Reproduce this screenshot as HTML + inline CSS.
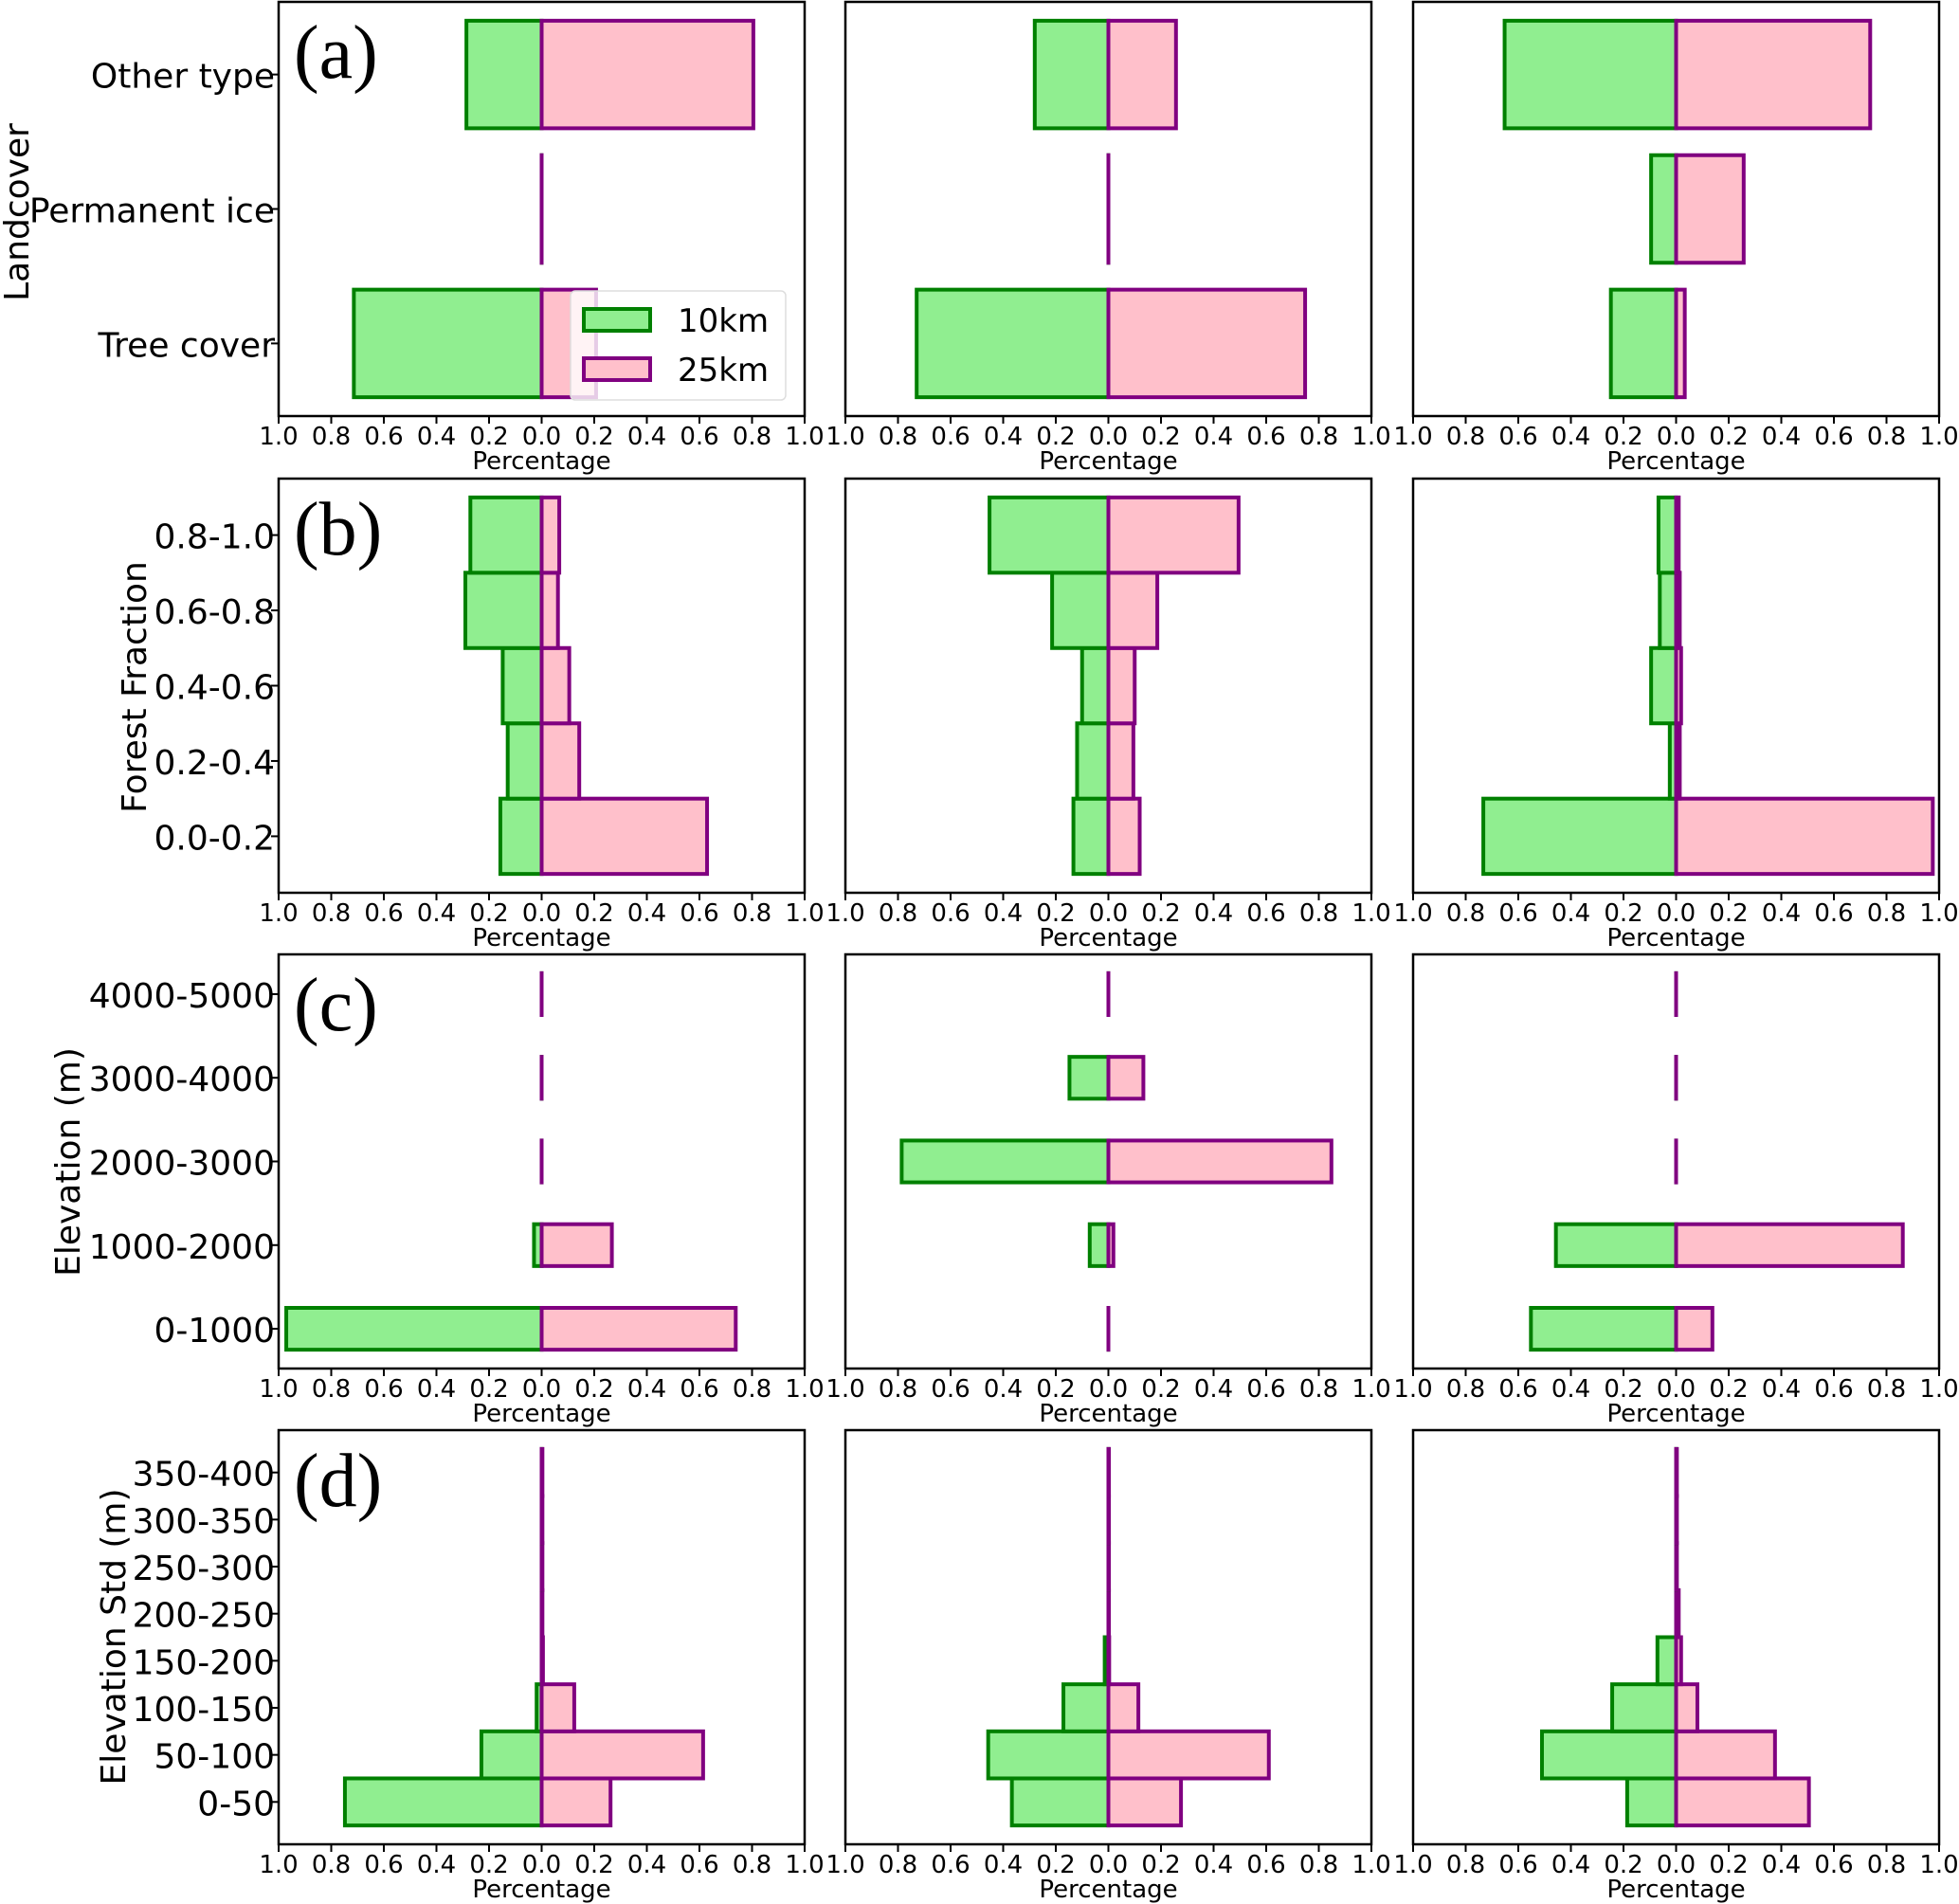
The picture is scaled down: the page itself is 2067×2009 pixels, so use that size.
<!DOCTYPE html>
<html><head><meta charset="utf-8"><style>
html,body{margin:0;padding:0;background:#fff}
svg{display:block}
</style></head><body>
<svg id="fig" width="2067" height="2009" viewBox="0 0 2067 2009" xmlns="http://www.w3.org/2000/svg" font-family="'DejaVu Sans', 'Liberation Sans', sans-serif"></svg>
<script>
// ---- data ----
const rowCats_a = ["Tree cover","Permanent ice","Other type"];
const rowCats_b = ["0.0-0.2","0.2-0.4","0.4-0.6","0.6-0.8","0.8-1.0"];
const rowCats_c = ["0-1000","1000-2000","2000-3000","3000-4000","4000-5000"];
const rowCats_d = ["0-50","50-100","100-150","150-200","200-250","250-300","300-350","350-400"];
const rowTitles = ["Landcover","Forest Fraction","Elevation (m)","Elevation Std (m)"];
const panelLetters = ["(a)","(b)","(c)","(d)"];
const barHeights = [0.8,1.0,0.5,1.0];
// 10km (green, plotted to the left) and 25km (pink, to the right), per column
const a10 = [[0.714,0,0.286],[0.729,0,0.28],[0.248,0.095,0.652]];
const a25 = [[0.207,0,0.805],[0.748,0,0.257],[0.033,0.257,0.738]];
const b10 = [[0.157,0.129,0.148,0.29,0.271],[0.133,0.119,0.10,0.214,0.452],[0.733,0.024,0.095,0.062,0.067]];
const b25 = [[0.629,0.143,0.105,0.062,0.067],[0.119,0.095,0.10,0.186,0.495],[0.976,0.014,0.019,0.014,0.01]];
const c10 = [[0.971,0.029,0,0,0],[0,0.071,0.786,0.148,0],[0.552,0.457,0,0,0]];
const c25 = [[0.738,0.267,0,0,0],[0,0.019,0.848,0.133,0],[0.138,0.862,0,0,0]];
const d10 = [[0.748,0.229,0.019,0,0,0,0,0],[0.367,0.457,0.171,0.014,0,0,0,0],[0.186,0.51,0.243,0.071,0,0,0,0]];
const d25 = [[0.262,0.614,0.124,0.005,0.003,0.003,0.003,0.003],[0.276,0.61,0.114,0.003,0.002,0.002,0.002,0.002],[0.505,0.376,0.081,0.019,0.01,0.003,0.003,0.003]];
const xTicks = [-1,-0.8,-0.6,-0.4,-0.2,0,0.2,0.4,0.6,0.8,1];
const xTickLabels = ["1.0","0.8","0.6","0.4","0.2","0.0","0.2","0.4","0.6","0.8","1.0"];

const cats = [rowCats_a,rowCats_b,rowCats_c,rowCats_d];
const v10 = [a10,b10,c10,d10];
const v25 = [a25,b25,c25,d25];

// ---- layout ----
const NS="http://www.w3.org/2000/svg";
const svg=document.getElementById('fig');
const colX=[294,892,1491], W=555;
const rowY=[2,505,1007,1509], H=437;
function mk(tag,attrs,parent){const e=document.createElementNS(NS,tag);for(const k in attrs)e.setAttribute(k,attrs[k]);(parent||svg).appendChild(e);return e;}

for(let r=0;r<4;r++){
  const n=cats[r].length, h=barHeights[r];
  const span=n-1+h;
  const y0=-h/2-0.05*span, y1=n-1+h/2+0.05*span;
  for(let c=0;c<3;c++){
    const L=colX[c],T=rowY[r];
    const g=mk('g',{});
    
    
    const xs=v=>L+(v+1)/2*W;
    const ys=v=>T+H-(v-y0)/(y1-y0)*H;
    // bars
    for(let i=0;i<n;i++){
      const yt=ys(i+h/2), yb=ys(i-h/2);
      const g1=v10[r][c][i], p1=v25[r][c][i];
      const wg=xs(0)-xs(-g1), wp=xs(p1)-xs(0);
      let rg;
      if(wg<0.5){
        rg=mk('line',{x1:xs(0),x2:xs(0),y1:yt-2,y2:yb+2,stroke:'#008000','stroke-width':4},g);
      } else {
        rg=mk('rect',{x:xs(-g1),y:yt,width:wg,height:yb-yt,fill:'#90ee90',stroke:'#008000','stroke-width':4},g);
      }
      
      
      let rp;
      if(wp<0.5){
        rp=mk('line',{x1:xs(0),x2:xs(0),y1:yt-2,y2:yb+2,stroke:'#800080','stroke-width':4},g);
      } else {
        rp=mk('rect',{x:xs(0),y:yt,width:wp,height:yb-yt,fill:'#ffc0cb',stroke:'#800080','stroke-width':4},g);
      }
      
      
    }
    // frame
    const fr=mk('rect',{x:L,y:T,width:W,height:H,fill:'none',stroke:'#000','stroke-width':2.5},g);
    
    
    // x ticks
    for(let k=0;k<xTicks.length;k++){
      const x=xs(xTicks[k]);
      mk('line',{x1:x,x2:x,y1:T+H,y2:T+H+8,stroke:'#000','stroke-width':2},g);
      const t=mk('text',{x:x,y:T+H+30,'font-size':26,'text-anchor':'middle'},g);
      t.textContent=xTickLabels[k];
      
      
    }
    const xl=mk('text',{x:xs(0),y:T+H+56,'font-size':26,'text-anchor':'middle'},g);
    xl.textContent='Percentage';
    
    
    if(c===0){
      for(let i=0;i<n;i++){
        const y=ys(i);
        mk('line',{x1:L-8,x2:L,y1:y,y2:y,stroke:'#000','stroke-width':2},g);
        const t=mk('text',{x:L-4,y:y+14,'font-size':36,'text-anchor':'end'},g);
        t.textContent=cats[r][i];
        
        
      }
      const pl=mk('text',{x:L+16,y:T+80,'font-size':80,'font-family':"'Liberation Serif', serif"},g);
      pl.textContent=panelLetters[r];
      
      
    }
  }
}
// y-axis titles
const titlePos=[[30,224],[154,725],[84,1226],[132,1727]];
for(let r=0;r<4;r++){
  const [x,y]=titlePos[r];
  const t=mk('text',{x:x,y:y,'font-size':36,'text-anchor':'middle',transform:`rotate(-90 ${x} ${y})`});
  t.textContent=rowTitles[r];
  
  
}
// legend
const lg=mk('g',{});


mk('rect',{x:602,y:307,width:227,height:115,rx:5,fill:'rgba(255,255,255,0.8)',stroke:'#ddd','stroke-width':1.5},lg);
const le1=mk('rect',{x:616,y:326,width:70,height:23,fill:'#90ee90',stroke:'#008000','stroke-width':4},lg);


const le2=mk('rect',{x:616,y:378,width:70,height:23,fill:'#ffc0cb',stroke:'#800080','stroke-width':4},lg);


const lt1=mk('text',{x:715,y:350,'font-size':34},lg);lt1.textContent='10km';


const lt2=mk('text',{x:715,y:402,'font-size':34},lg);lt2.textContent='25km';


</script>
</body></html>
